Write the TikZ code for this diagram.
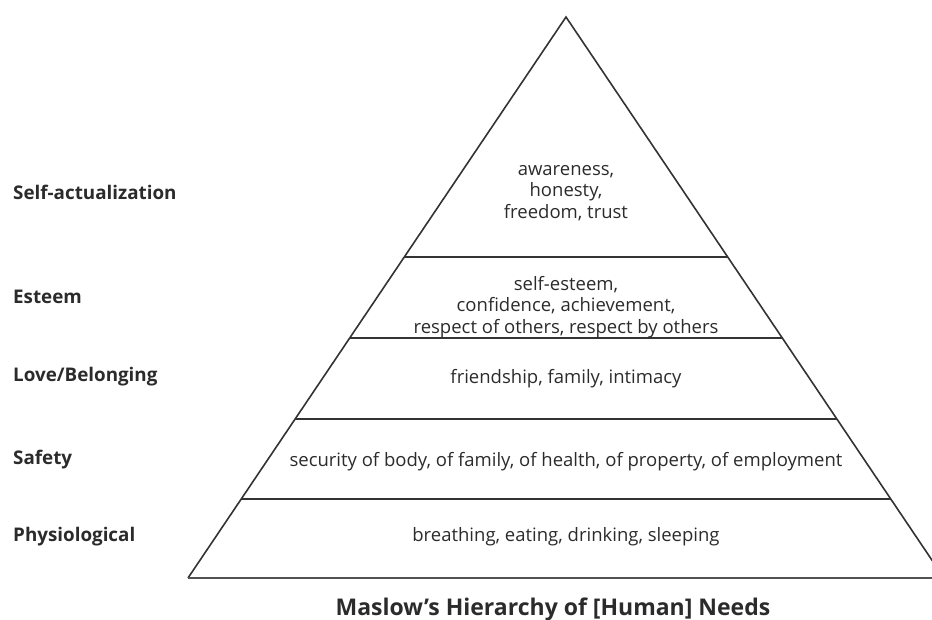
\documentclass[tikz,border=0pt]{standalone}
\usepackage{fontspec}
\setmainfont{Open Sans}
\usetikzlibrary{calc}
\definecolor{ink}{HTML}{2B2B2B}
\definecolor{edge}{HTML}{333333}
\begin{document}
\begin{tikzpicture}[x=1pt,y=-1pt,
  side/.style={draw=edge,line width=1.6pt,line join=miter},
  sep/.style={draw=edge,line width=1.4pt},
  body/.style={text=ink,font=\fontsize{18.5}{21.5}\selectfont,align=center,inner sep=0pt},
  lvl/.style={text=ink,font=\fontsize{18.8}{20}\selectfont\bfseries,anchor=west,inner sep=0pt},
  ttl/.style={text=ink,font=\fontsize{23}{26}\selectfont\bfseries,inner sep=0pt}]
\useasboundingbox (0,0) rectangle (932,619);
\clip (0,0) rectangle (932,619);
\coordinate (apex) at (566,17);
\coordinate (bl) at (188,578);
\coordinate (br) at (944,578);
\draw[side] (bl) -- (apex) -- (br);
\draw[draw=edge!85,line width=2pt] (bl) -- (br);
\foreach \t/\n in {0.4278/a,0.5722/b,0.7166/c,0.8592/d}{
  \coordinate (l\n) at ($(apex)!\t!(bl)$);
  \coordinate (r\n) at ($(apex)!\t!(br)$);
  \draw[sep] (l\n) -- (r\n);
}
\node[body] (t1) at (566,193) {awareness,\\honesty,\\freedom, trust};
\node[body] (t2) at (566,307) {self-esteem,\\confidence, achievement,\\respect of others, respect by others};
\node[body] (t3) at (566,379) {friendship, family, intimacy};
\node[body] (t4) at (566,462) {security of body, of family, of health, of property, of employment};
\node[body] (t5) at (566,537) {breathing, eating, drinking, sleeping};
\node[lvl] (s1) at (13,192) {Self-actualization};
\node[lvl] (s2) at (13,297) {Esteem};
\node[lvl] (s3) at (13,377) {Love/Belonging};
\node[lvl] (s4) at (13,460) {Safety};
\node[lvl] (s5) at (13,537) {Physiological};
\node[ttl] (title) at (553,609) {Maslow’s Hierarchy of [Human] Needs};
\end{tikzpicture}
\end{document}
